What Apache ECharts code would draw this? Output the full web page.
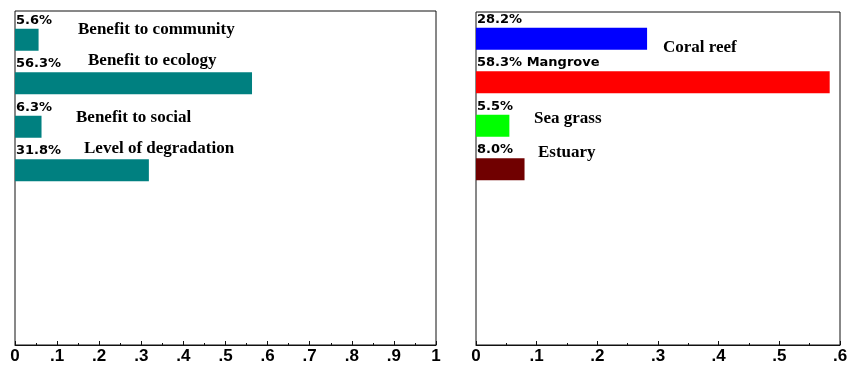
<!DOCTYPE html>
<html>
<head>
<meta charset="utf-8">
<script src="https://cdn.jsdelivr.net/npm/echarts@6/dist/echarts.min.js"></script>
<style>html,body{margin:0;padding:0;background:#fff}#c{width:851px;height:365px}</style>
</head>
<body>
<div id="c"></div>
<script>
// ---- data ----
var leftCategories = ['Benefit to community', 'Benefit to ecology', 'Benefit to social', 'Level of degradation'];
var leftValues = [0.056, 0.563, 0.063, 0.318];
var leftTickLabels = ['0', '.1', '.2', '.3', '.4', '.5', '.6', '.7', '.8', '.9', '1'];

var rightCategories = ['Coral reef', 'Mangrove', 'Sea grass', 'Estuary'];
var rightValues = [0.282, 0.583, 0.055, 0.080];
var rightInlineNames = ['', 'Mangrove', '', ''];
var rightTickLabels = ['0', '.1', '.2', '.3', '.4', '.5', '.6'];

// ---- styles / layout ----
var leftColor = '#008080';
var rightColors = ['#0000FF', '#FF0000', '#00FF00', '#700000'];
var serifFont = 'bold 17px "Liberation Serif", "Times New Roman", serif';
// annotation text anchors (pixel positions of the free-floating labels)
var leftNotePos = [[78, 30], [88, 61], [76, 118], [84, 149]];
var rightNotePos = [[663, 48], null, [534, 119], [538, 153]];

function pctLabel(v) { return (v * 100).toFixed(1) + '%'; }

function tickFmt(arr) {
  return function (v) {
    var i = Math.round(v * 10);
    return arr[i] !== undefined ? arr[i] : '';
  };
}

var frameAxisCommon = {
  type: 'value',
  interval: 0.1,
  axisLine: { show: true, lineStyle: { color: '#111', width: 1 } },
  axisTick: { show: true, inside: true, length: 4, lineStyle: { color: '#111' } },
  minorTick: { show: true, splitNumber: 2, length: 2, lineStyle: { color: '#111' } },
  splitLine: { show: false },
  axisLabel: {
    color: '#000', fontSize: 17, fontWeight: 'bold',
    fontFamily: '"Liberation Sans Narrow", "Arial Narrow", "Liberation Sans", sans-serif',
    margin: 3
  }
};

var graphics = [];
leftCategories.forEach(function (name, i) {
  var p = leftNotePos[i];
  if (!p) return;
  graphics.push({ type: 'text', x: p[0], y: p[1], style: { text: name, font: serifFont, fill: '#000', verticalAlign: 'middle' } });
});
rightCategories.forEach(function (name, i) {
  var p = rightNotePos[i];
  if (!p) return;
  graphics.push({ type: 'text', x: p[0], y: p[1], style: { text: name, font: serifFont, fill: '#000', verticalAlign: 'middle' } });
});

var valueLabel = {
  show: true,
  position: [1, -2],
  verticalAlign: 'bottom',
  align: 'left',
  color: '#000',
  fontSize: 13,
  fontWeight: 'bold',
  fontFamily: '"DejaVu Sans", sans-serif'
};

var option = {
  animation: false,
  backgroundColor: '#fff',
  grid: [
    { left: 15, right: 415, top: 11, bottom: 17, show: true, borderColor: '#111', borderWidth: 1, backgroundColor: 'transparent' },
    { left: 15, right: 415, top: 18, height: 174 },
    { left: 476, right: 11, top: 12, bottom: 17, show: true, borderColor: '#111', borderWidth: 1, backgroundColor: 'transparent' },
    { left: 476, right: 11, top: 17, height: 174 }
  ],
  xAxis: [
    Object.assign({}, frameAxisCommon, { gridIndex: 0, min: 0, max: 1,
      axisLabel: Object.assign({}, frameAxisCommon.axisLabel, { formatter: tickFmt(leftTickLabels) }) }),
    { gridIndex: 1, type: 'value', min: 0, max: 1, show: false },
    Object.assign({}, frameAxisCommon, { gridIndex: 2, min: 0, max: 0.6,
      axisLabel: Object.assign({}, frameAxisCommon.axisLabel, { formatter: tickFmt(rightTickLabels) }) }),
    { gridIndex: 3, type: 'value', min: 0, max: 0.6, show: false }
  ],
  yAxis: [
    { gridIndex: 0, type: 'value', show: false, min: 0, max: 1 },
    { gridIndex: 1, type: 'category', data: leftCategories, inverse: true, show: false },
    { gridIndex: 2, type: 'value', show: false, min: 0, max: 1 },
    { gridIndex: 3, type: 'category', data: rightCategories, inverse: true, show: false }
  ],
  series: [
    {
      type: 'bar', xAxisIndex: 1, yAxisIndex: 1, barWidth: 22,
      data: leftValues,
      itemStyle: { color: leftColor },
      label: Object.assign({}, valueLabel, { formatter: function (p) { return pctLabel(p.value); } })
    },
    {
      type: 'bar', xAxisIndex: 3, yAxisIndex: 3, barWidth: 22,
      data: rightValues.map(function (v, i) { return { value: v, itemStyle: { color: rightColors[i] } }; }),
      label: Object.assign({}, valueLabel, { formatter: function (p) {
        var extra = rightInlineNames[p.dataIndex];
        return pctLabel(p.value) + (extra ? ' ' + extra : '');
      } })
    }
  ],
  graphic: graphics
};

var chart = echarts.init(document.getElementById('c'), null, { renderer: 'canvas' });
chart.setOption(option);
</script>
</body>
</html>
